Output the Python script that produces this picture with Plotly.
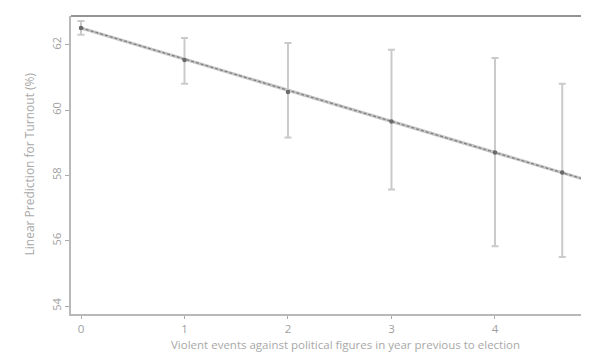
import plotly.graph_objects as go

# Data
events = [0, 1, 2, 3, 4, 4.65, 5.0]
prediction = [62.52, 61.54, 60.56, 59.65, 58.70, 58.09, 57.75]
ci_high = [62.73, 62.21, 62.06, 61.85, 61.60, 60.81, 61.39]
ci_low = [62.31, 60.81, 59.16, 57.57, 55.83, 55.50, 54.24]
fit_x = [0, 4.99]
fit_y = [62.52, 57.76]
x_ticks = [0, 1, 2, 3, 4]
y_ticks = [54, 56, 58, 60, 62]

err_plus = [h - p for h, p in zip(ci_high, prediction)]
err_minus = [p - l for p, l in zip(prediction, ci_low)]

fig = go.Figure()
# fitted line: light base with darker dashed overlay (hatched look)
fig.add_trace(go.Scatter(x=fit_x, y=fit_y, mode="lines",
                         line=dict(color="#c8c8c8", width=3.2), hoverinfo="skip"))
fig.add_trace(go.Scatter(x=fit_x, y=fit_y, mode="lines",
                         line=dict(color="#808080", width=1.3, dash="3px,2px"), hoverinfo="skip"))
fig.add_trace(go.Scatter(
    x=events, y=prediction, mode="markers",
    marker=dict(color="#6a6a6a", size=4.5),
    error_y=dict(type="data", symmetric=False, array=err_plus, arrayminus=err_minus,
                 color="#cacaca", thickness=2, width=3.5),
))

fig.update_layout(
    width=589, height=354,
    margin=dict(l=63, r=0, t=8, b=48),
    paper_bgcolor="white", plot_bgcolor="white",
    showlegend=False,
    font=dict(family="Open Sans", color="#999999", size=11),
    xaxis=dict(range=[-0.0966, 4.986], tickvals=x_ticks, showgrid=False, zeroline=False,
               showline=True, linecolor="#b8b8b8", linewidth=1.5,
               ticks="outside", ticklen=3, tickcolor="#aaaaaa", tickwidth=1,
               tickfont=dict(size=11.5, color="#a0a0a0")),
    yaxis=dict(range=[53.756, 62.885], tickvals=y_ticks, showgrid=False, zeroline=False,
               showline=True, linecolor="#b8b8b8", linewidth=1.5,
               ticks="outside", ticklen=4, tickcolor="#aaaaaa", tickwidth=1,
               tickangle=-90, tickfont=dict(size=11, color="#a0a0a0")),
    shapes=[dict(type="line", xref="paper", yref="paper", x0=0, x1=1, y0=1, y1=1,
                 line=dict(color="#707070", width=1.6))],
    annotations=[
        dict(text="Linear Prediction for Turnout (%)", xref="paper", yref="paper",
             x=-0.078, y=0.505, xanchor="center", yanchor="middle", textangle=-90,
             showarrow=False, font=dict(size=12, color="#a8a8a8")),
        dict(text="Violent events against political figures in year previous to election",
             xref="paper", yref="paper", x=0.521, y=-0.104, xanchor="center", yanchor="middle",
             showarrow=False, font=dict(size=11.5, color="#a8a8a8")),
    ],
)

fig.write_html("out.html")
